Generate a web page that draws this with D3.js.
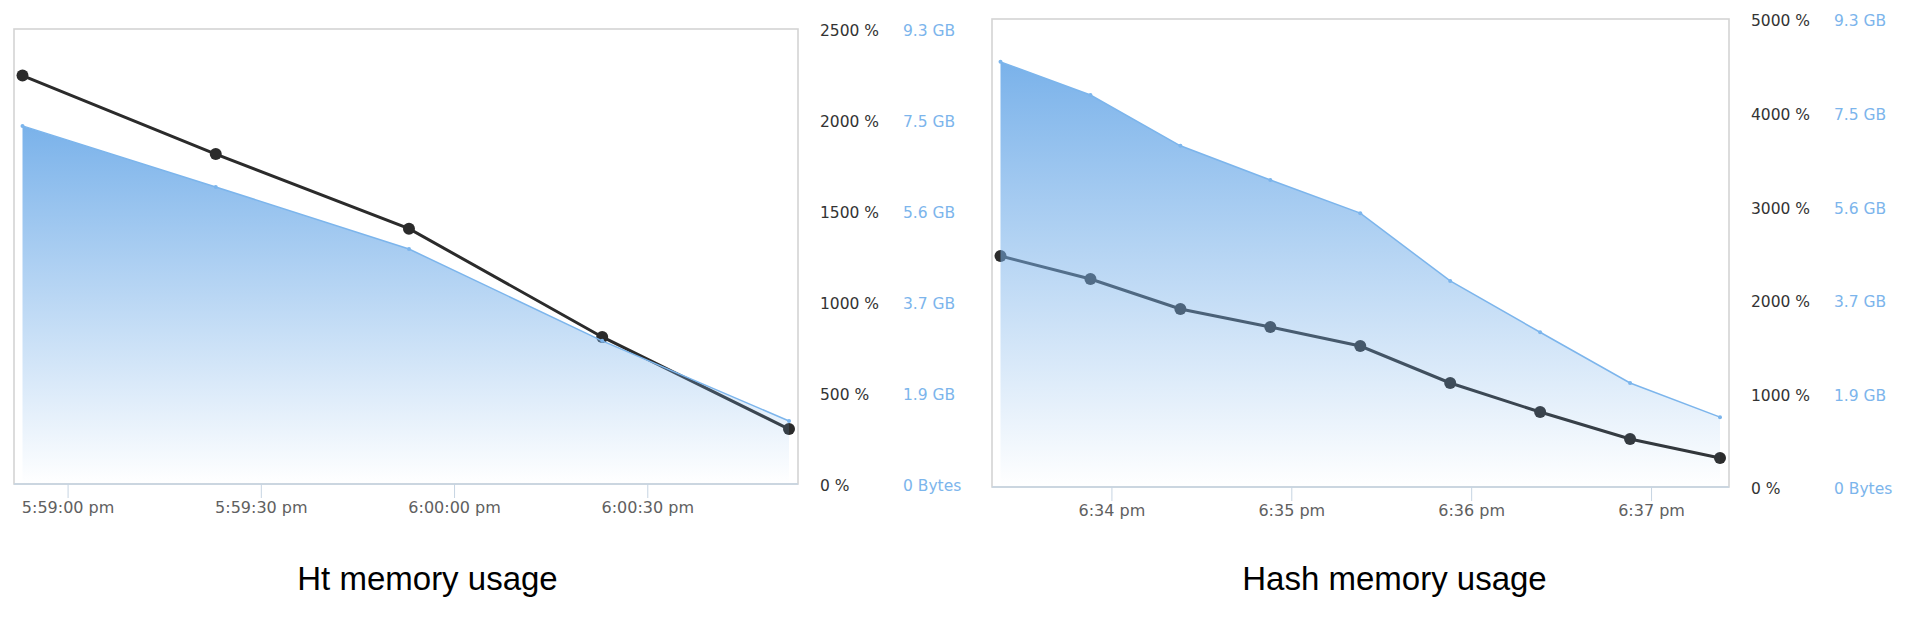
<!DOCTYPE html>
<html>
<head>
<meta charset="utf-8">
<script src="https://cdn.jsdelivr.net/npm/d3@7"></script>
<style>
  body { margin: 0; background: #fff; }
  svg { display: block; }
  .tick-lbl text { font-family: "DejaVu Sans", sans-serif; }
</style>
</head>
<body>
<svg id="chart" width="1920" height="618"></svg>
<script>
// DATA
const htTimes = ["17:58:53", "17:59:23", "17:59:53", "18:00:23", "18:00:52"];
const htCpuPct = [2244, 1813, 1403, 808, 302];
const htMemGB = [7.33, 6.08, 4.81, 2.93, 1.29];
const htTimeTicks = ["17:59:00", "17:59:30", "18:00:00", "18:00:30"];
const htPctTicks = [0, 500, 1000, 1500, 2000, 2500];

const hashTimes = ["18:33:23", "18:33:53", "18:34:23", "18:34:53", "18:35:23",
                   "18:35:53", "18:36:23", "18:36:53", "18:37:23"];
const hashCpuPct = [2468, 2222, 1902, 1709, 1506, 1111, 801, 513, 310];
const hashMemGB = [8.46, 7.80, 6.79, 6.11, 5.45, 4.10, 3.08, 2.07, 1.39];
const hashTimeTicks = ["18:34:00", "18:35:00", "18:36:00", "18:37:00"];
const hashPctTicks = [0, 1000, 2000, 3000, 4000, 5000];

// memory axis tops out at 10^10 bytes = 9.3 GiB, split in 5
const memAxisMaxGB = 9.3132;
const memTickCount = 5;

const svg = d3.select("#chart");
const parseTime = d3.timeParse("%H:%M:%S");

const blue = "#7cb5ec";
const dark = "#2b2b2b";

// gradient for the area fill, shared by both panels
const grad = svg.append("defs")
  .append("linearGradient")
  .attr("id", "memFill")
  .attr("x1", 0).attr("y1", 0)
  .attr("x2", 0).attr("y2", 1);
grad.append("stop").attr("offset", "0%")
  .attr("stop-color", "rgb(122,178,234)").attr("stop-opacity", 1);
grad.append("stop").attr("offset", "100%")
  .attr("stop-color", "rgb(122,178,234)").attr("stop-opacity", 0);

function drawPanel(opt) {
  const { box, times, cpu, mem, timeTicks, pctTicks, timeFmt, title, titleX } = opt;

  const pts = times.map((t, i) => ({ t: parseTime(t), cpu: cpu[i], mem: mem[i] }));

  const x = d3.scaleTime()
    .domain(d3.extent(pts, d => d.t))
    .range([box.left + 8.5, box.right - 9]);
  const yPct = d3.scaleLinear()
    .domain([0, d3.max(pctTicks)])
    .range([box.bottom, box.top]);
  const yMem = d3.scaleLinear()
    .domain([0, memAxisMaxGB])
    .range([box.bottom, box.top]);

  const g = svg.append("g");

  // plot frame
  g.append("rect")
    .attr("x", box.left).attr("y", box.top)
    .attr("width", box.right - box.left)
    .attr("height", box.bottom - box.top)
    .attr("fill", "none")
    .attr("stroke", "#d4d4d4")
    .attr("stroke-width", 1.6);

  // cpu line (sits under the area)
  const cpuLine = d3.line().x(d => x(d.t)).y(d => yPct(d.cpu));
  g.append("path")
    .datum(pts)
    .attr("d", cpuLine)
    .attr("fill", "none")
    .attr("stroke", dark)
    .attr("stroke-width", 3);
  g.selectAll(".cpu-dot")
    .data(pts)
    .join("circle")
    .attr("class", "cpu-dot")
    .attr("cx", d => x(d.t))
    .attr("cy", d => yPct(d.cpu))
    .attr("r", 6)
    .attr("fill", dark);

  // memory area + line
  const area = d3.area()
    .x(d => x(d.t))
    .y0(yMem(0))
    .y1(d => yMem(d.mem));
  g.append("path")
    .datum(pts)
    .attr("d", area)
    .attr("fill", "url(#memFill)");

  const memLine = d3.line().x(d => x(d.t)).y(d => yMem(d.mem));
  g.append("path")
    .datum(pts)
    .attr("d", memLine)
    .attr("fill", "none")
    .attr("stroke", blue)
    .attr("stroke-width", 1.5);
  g.selectAll(".mem-dot")
    .data(pts)
    .join("circle")
    .attr("class", "mem-dot")
    .attr("cx", d => x(d.t))
    .attr("cy", d => yMem(d.mem))
    .attr("r", 2)
    .attr("fill", blue);

  // bottom axis line
  g.append("line")
    .attr("x1", box.left).attr("x2", box.right)
    .attr("y1", box.bottom).attr("y2", box.bottom)
    .attr("stroke", "#c6d4e2")
    .attr("stroke-width", 1.6);

  // x axis
  const xAxis = g.append("g")
    .attr("class", "tick-lbl")
    .attr("transform", `translate(0,${box.bottom})`)
    .call(d3.axisBottom(x)
      .tickValues(timeTicks.map(parseTime))
      .tickFormat(d => timeFmt(d).toLowerCase())
      .tickSizeInner(14)
      .tickSizeOuter(0)
      .tickPadding(4));
  xAxis.select(".domain").remove();
  xAxis.selectAll("line").attr("stroke", "#c6d4e2");
  xAxis.selectAll("text")
    .attr("font-size", 16)
    .attr("fill", "#606060");

  // right axes: percent and memory
  const pctAxis = g.append("g")
    .attr("class", "tick-lbl")
    .attr("transform", `translate(${box.right + 22},2)`)
    .call(d3.axisRight(yPct)
      .tickValues(pctTicks)
      .tickFormat(d => d + " %")
      .tickSize(0)
      .tickPadding(0));
  pctAxis.select(".domain").remove();
  pctAxis.selectAll("text")
    .attr("font-size", 15.5)
    .attr("fill", "#333");

  const memTicks = d3.range(memTickCount + 1).map(i => i * memAxisMaxGB / memTickCount);
  const memAxis = g.append("g")
    .attr("class", "tick-lbl")
    .attr("transform", `translate(${box.right + 105},2)`)
    .call(d3.axisRight(yMem)
      .tickValues(memTicks)
      .tickFormat(d => d === 0 ? "0 Bytes" : d3.format(".1f")(d) + " GB")
      .tickSize(0)
      .tickPadding(0));
  memAxis.select(".domain").remove();
  memAxis.selectAll("text")
    .attr("font-size", 15.5)
    .attr("fill", blue);

  // caption under the chart
  svg.append("text")
    .attr("x", titleX)
    .attr("y", 590)
    .attr("text-anchor", "middle")
    .attr("font-family", "'Liberation Sans', Arial, sans-serif")
    .attr("font-size", 33)
    .attr("fill", "#000")
    .text(title);
}

drawPanel({
  box: { left: 14, right: 798, top: 29, bottom: 484 },
  times: htTimes, cpu: htCpuPct, mem: htMemGB,
  timeTicks: htTimeTicks, pctTicks: htPctTicks,
  timeFmt: d3.timeFormat("%-I:%M:%S %p"),
  title: "Ht memory usage", titleX: 427.5
});

drawPanel({
  box: { left: 992, right: 1729, top: 19, bottom: 487 },
  times: hashTimes, cpu: hashCpuPct, mem: hashMemGB,
  timeTicks: hashTimeTicks, pctTicks: hashPctTicks,
  timeFmt: d3.timeFormat("%-I:%M %p"),
  title: "Hash memory usage", titleX: 1394.5
});
</script>
</body>
</html>
